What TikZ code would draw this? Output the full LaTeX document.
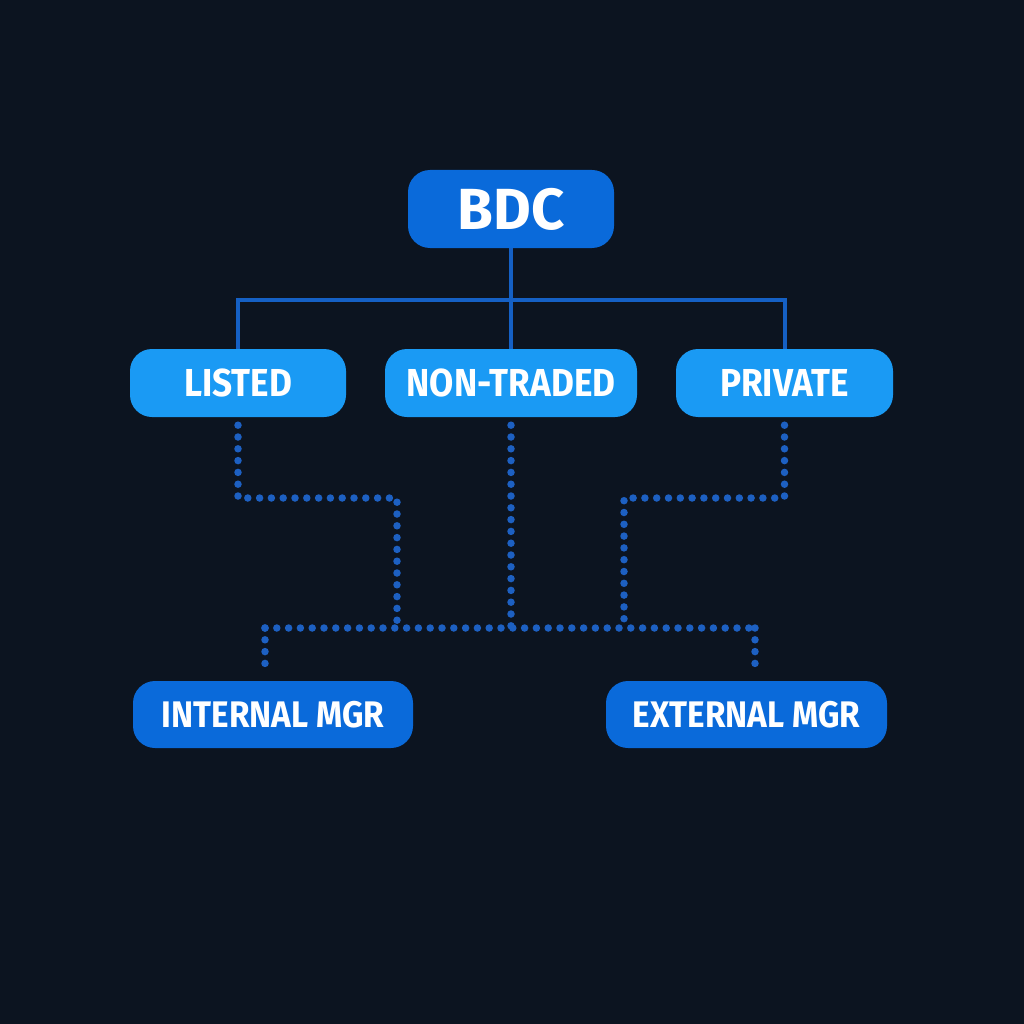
\documentclass[tikz,border=0pt]{standalone}
\usepackage{fontspec}
\setmainfont{Fira Sans}
\newfontfamily\boxfont{Fira Sans}[FakeStretch=0.9]
\newfontfamily\topfont{Fira Sans}
\definecolor{bg}{HTML}{0C1420}
\definecolor{darkblue}{HTML}{0A6ADA}
\definecolor{lightblue}{HTML}{1A9AF4}
\definecolor{solidline}{HTML}{1560C4}
\definecolor{dotline}{HTML}{1D60C2}
\tikzset{
  boxbase/.style={rounded corners=22pt, text=white, inner sep=0pt},
  topbox/.style={boxbase, fill=darkblue, minimum width=206pt, minimum height=78pt, font=\topfont\bfseries\fontsize{58}{62}\selectfont},
  midbox/.style={boxbase, fill=lightblue, minimum height=68pt, font=\boxfont\bfseries\fontsize{39}{42}\selectfont},
  lowbox/.style={boxbase, fill=darkblue, minimum height=67pt, font=\boxfont\bfseries\fontsize{37}{40}\selectfont},
  solidcon/.style={draw=solidline, line width=4pt},
  dotcon/.style={draw=dotline, line width=7.5pt, line cap=round, dash pattern=on 0pt off 11.8pt},
}
\begin{document}
\begin{tikzpicture}[x=1pt,y=-1pt]
\fill[bg] (0,0) rectangle (1024,1024);
\useasboundingbox (0,0) rectangle (1024,1024);

\node[topbox] (bdc) at (511,209) {BDC};
\node[midbox, minimum width=216pt] (listed) at (238,383) {LISTED};
\node[midbox, minimum width=252pt] (nontraded) at (511,383) {NON-TRADED};
\node[midbox, minimum width=217pt] (private) at (784.5,383) {PRIVATE};
\node[lowbox, minimum width=280pt] (internal) at (273,714.5) {INTERNAL MGR};
\node[lowbox, minimum width=281pt] (external) at (746.5,714.5) {EXTERNAL MGR};

% solid tree
\coordinate (bus) at (511,300);
\draw[solidcon] (bdc.south) -- (bus);
\draw[solidcon] (listed.north) -- (listed.north |- bus) -- (private.north |- bus) -- (private.north);
\draw[solidcon] (bus) -- (nontraded.north);

% dotted
\coordinate (lj) at (397,498);
\coordinate (pj) at (624,498);
\coordinate (hl) at (265,628);
\coordinate (hr) at (755,628);
\draw[dotcon] ([yshift=-8pt]listed.south) -- (listed.south |- lj) -- (lj) -- (lj |- hl);
\draw[dotcon] ([yshift=-8pt]private.south) -- (private.south |- pj) -- (pj) -- (pj |- hl);
\draw[dotcon] ([yshift=-8pt]nontraded.south) -- (nontraded.south |- hl);
\draw[dotcon] (hl) -- (hr);
\draw[dotcon] (hl) -- ([yshift=6pt]internal.north -| hl);
\draw[dotcon] (hr) -- ([yshift=6pt]external.north -| hr);
\end{tikzpicture}
\end{document}
